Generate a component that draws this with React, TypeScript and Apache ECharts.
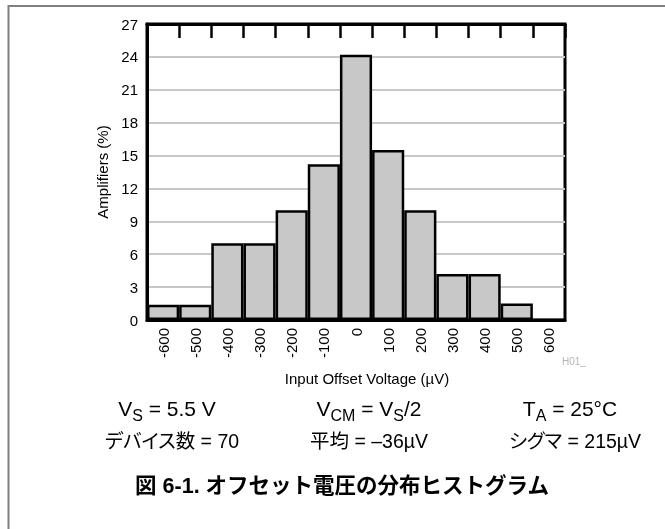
import React, { useEffect, useRef } from "react";
import * as echarts from "echarts";

const categories = ["-600", "-500", "-400", "-300", "-200", "-100", "0", "100", "200", "300", "400", "500", "600"];
const amplifiersPct = [1.4, 1.4, 7.0, 7.0, 10.0, 14.2, 24.2, 15.5, 10.0, 4.2, 4.2, 1.5, 0];
const yTicks = { min: 0, max: 27, interval: 3 };
const conditionsRow = ["{m|V}{s|S}{m| = 5.5 V}", "{m|V}{s|CM}{m| = V}{s|S}{m|/2}", "{m|T}{s|A}{m| = 25°C}"];
const statsRow = ["デバイス数 = 70", "平均 = –36µV", "シグマ = 215µV"];

const FONT = "'Liberation Sans', Arial, 'Noto Sans CJK JP', sans-serif";

export default function App() {
  const ref = useRef<HTMLDivElement>(null);
  useEffect(() => {
    if (!ref.current) return;
    const el = ref.current;
    const chart = echarts.init(el, null, { renderer: "svg" });
    const main = { fontSize: 21, lineHeight: 25, verticalAlign: "top", fill: "#000", fontFamily: FONT };
    const sub = { fontSize: 16, lineHeight: 16, padding: [10, 0, 0, 0], verticalAlign: "top", fill: "#000", fontFamily: FONT };
    const richText = (x: number, y: number, text: string) => ({
      type: "text",
      x,
      y,
      style: { text, align: "center", verticalAlign: "middle", rich: { m: main, s: sub }, fontFamily: FONT, fontSize: 21, fill: "#000" },
    });
    const plainText = (x: number, y: number, text: string) => ({
      type: "text",
      x,
      y,
      style: { text, align: "center", verticalAlign: "middle", fontFamily: FONT, fontSize: 19.5, fill: "#000" },
    });
    chart.setOption({
      animation: false,
      textStyle: { fontFamily: FONT },
      grid: { left: 147, top: 24, width: 418, height: 296, show: true, borderColor: "#000", borderWidth: 3, containLabel: false },
      xAxis: [
        {
          type: "category",
          data: categories,
          position: "bottom",
          boundaryGap: true,
          axisLine: { show: true, lineStyle: { color: "#000", width: 3 } },
          axisTick: { show: false },
          axisLabel: { rotate: 90, interval: 0, fontSize: 15, color: "#000", margin: 8, fontFamily: FONT },
          name: "Input Offset Voltage (µV)",
          nameLocation: "middle",
          nameGap: 51,
          nameTextStyle: { fontSize: 15, color: "#000", fontFamily: FONT, padding: [0, 0, 0, 22] },
        },
        {
          type: "category",
          data: categories,
          position: "top",
          boundaryGap: true,
          axisLine: { show: true, lineStyle: { color: "#000", width: 3 } },
          axisTick: { show: true, inside: true, interval: 0, length: 14, lineStyle: { color: "#000", width: 2.5 } },
          axisLabel: { show: false },
        },
      ],
      yAxis: {
        type: "value",
        min: yTicks.min,
        max: yTicks.max,
        interval: yTicks.interval,
        axisLine: { show: true, lineStyle: { color: "#000", width: 3 } },
        axisTick: { show: false },
        axisLabel: { fontSize: 15, color: "#000", margin: 9, fontFamily: FONT },
        splitLine: { show: true, lineStyle: { color: "#c8c8c8", width: 2 } },
        name: "Amplifiers (%)",
        nameLocation: "middle",
        nameGap: 37,
        nameTextStyle: { fontSize: 15, color: "#000", fontFamily: FONT },
      },
      series: [
        {
          type: "bar",
          data: amplifiersPct,
          xAxisIndex: 0,
          barCategoryGap: "0%",
          itemStyle: { color: "#c8c8c8", borderColor: "#000", borderWidth: 2.5 },
        },
      ],
      graphic: [
        { type: "rect", shape: { x: 8.5, y: 6, width: 700, height: 600 }, style: { fill: "none", stroke: "#7f7f7f", lineWidth: 2 }, silent: true },
        { type: "text", x: 562, y: 356, style: { text: "H01_", fontSize: 10, fill: "#b4b4b4", fontFamily: FONT } },
        richText(167, 410, conditionsRow[0]),
        richText(369, 410, conditionsRow[1]),
        richText(570, 410, conditionsRow[2]),
        plainText(172, 441, statsRow[0]),
        plainText(369, 441, statsRow[1]),
        plainText(575, 441, statsRow[2]),
        {
          type: "text",
          x: 342,
          y: 486,
          style: { text: "図 6-1. オフセット電圧の分布ヒストグラム", align: "center", verticalAlign: "middle", fontSize: 21.5, fontWeight: "bold", fill: "#000", fontFamily: FONT },
        },
      ],
    });
    const applyPalt = () => {
      el.querySelectorAll("text").forEach((t) => {
        const s = t.textContent || "";
        if (statsRow.some((r) => s.indexOf(r.slice(0, 2)) >= 0)) {
          (t as SVGTextElement).style.setProperty("font-feature-settings", '"palt"');
        }
      });
    };
    applyPalt();
    chart.on("finished", applyPalt);
    const raf = requestAnimationFrame(applyPalt);
    return () => {
      cancelAnimationFrame(raf);
      chart.dispose();
    };
  }, []);
  return <div ref={ref} style={{ position: "fixed", left: 0, top: 0, width: 665, height: 529 }} />;
}
